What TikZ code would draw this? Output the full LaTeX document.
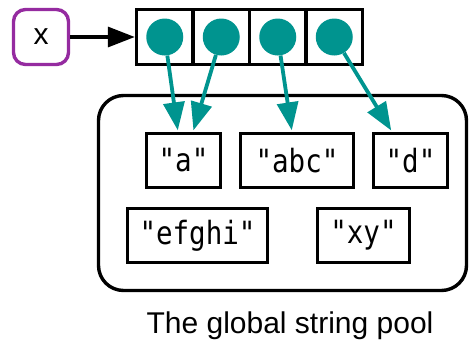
\documentclass[tikz,border=0pt]{standalone}
\usepackage{fontspec}
\setmainfont{Liberation Sans}
\newfontfamily\strfont[FakeStretch=0.86]{DejaVu Sans Mono}
\usetikzlibrary{positioning,arrows.meta,calc}
\definecolor{ptrteal}{RGB}{0,148,143}
\definecolor{varpurple}{RGB}{149,43,160}

\begin{document}
\begin{tikzpicture}
	[x=1pt,y=-1pt,font=\fontsize{30}{36}\selectfont,
	var/.style={draw=varpurple,line width=3.4pt,rounded corners=12pt,minimum width=55pt,minimum height=55pt,inner sep=0pt},
	cell/.style={draw,line width=3.4pt,minimum width=56.5pt,minimum height=55pt,inner sep=0pt},
	dot/.style={circle,fill=ptrteal,minimum size=37pt,inner sep=0pt},
	str/.style={draw,line width=3.4pt,minimum height=54pt,inner sep=0pt,font=\fontsize{32}{38}\strfont},
	pool/.style={draw,line width=3.4pt,rounded corners=25pt,minimum width=368pt,minimum height=195pt,inner sep=0pt},
	ptr/.style={ptrteal,line width=3.8pt,-{Triangle[length=28pt,width=21pt]}}]
	\useasboundingbox (0,0) rectangle (469,341);
	%%%%% VARIABLE AND ARRAY
	\node[var] (xv) at (41,37) {x};
	\foreach \i in {1,...,4}
	{
	\node[cell] (c\i) at ({108.25+56.5*\i},37) {};
	\node[dot] (p\i) at (c\i) {};
	};
	\draw[line width=3.4pt,-{Triangle[length=27pt,width=20pt]}] (xv) -- (c1.west);
	%%%%% STRING POOL
	\node[pool] (pool) at (282.5,193) {};
	\node[str,minimum width=74pt] (a) at (183.5,160.5) {"a"};
	\node[str,minimum width=113pt] (abc) at (297,160.5) {"abc"};
	\node[str,minimum width=74pt] (d) at (410.5,160.5) {"d"};
	\node[str,minimum width=140pt] (efghi) at (197.5,235.5) {"efghi"};
	\node[str,minimum width=92pt] (xy) at (363.5,235.5) {"xy"};
	\node[anchor=base] (title) at (290,333) {The global string pool};
	%%%%% POINTERS
	\foreach \src/\dst/\dx in {p1/a/-5.5,p2/a/9.5,p3/abc/-5,p4/d/-18.5}
	{
	\draw[ptr,shorten >=1.5pt] (\src) -- ([xshift=\dx pt]\dst.north);
	};
\end{tikzpicture}
\end{document}
